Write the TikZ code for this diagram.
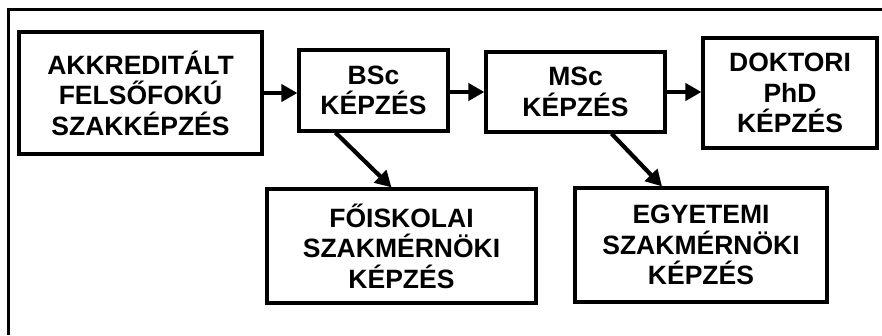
\documentclass[tikz,border=0pt]{standalone}
\usepackage{fontspec}
\setmainfont{Liberation Sans}
\usetikzlibrary{arrows.meta}

\tikzset{
    stage/.style={draw, line width=3.2pt, align=center, inner sep=0pt,
        font=\fontsize{26.5}{30.5}\selectfont\bfseries},
    flow/.style={line width=4.2pt, -{Triangle[length=16pt,width=17pt]}},
}

\begin{document}
\begin{tikzpicture}[x=1pt, y=-1pt]
        \useasboundingbox (0,0) rectangle (882,335);
        \draw [line width=2.8pt] (882,9.5) -- (8.5,9.5) -- (8.5,335);

        \node [stage, minimum width=243pt, minimum height=122pt] (akk) at (140.5,93)
            {AKKREDITÁLT\\FELSŐFOKÚ\\SZAKKÉPZÉS};
        \node [stage, minimum width=149pt, minimum height=81pt] (bsc) at (373.5,90.5)
            {BSc\\KÉPZÉS};
        \node [stage, minimum width=179pt, minimum height=80pt] (msc) at (575.5,92)
            {MSc\\KÉPZÉS};
        \node [stage, minimum width=174pt, minimum height=110pt] (phd) at (790,93)
            {DOKTORI\\PhD\\KÉPZÉS};
        \node [stage, minimum width=269pt, minimum height=114pt] (foi) at (401.5,246)
            {FŐISKOLAI\\SZAKMÉRNÖKI\\KÉPZÉS};
        \node [stage, minimum width=252pt, minimum height=114pt] (egy) at (701,245)
            {EGYETEMI\\SZAKMÉRNÖKI\\KÉPZÉS};

        \draw [flow] (akk.east) -- (akk.east -| bsc.west);
        \draw [flow] (msc.west -| bsc.east) -- (msc.west);
        \draw [flow] (msc.east) -- (msc.east -| phd.west);
        \draw [flow] ([xshift=-38pt]bsc.south) -- ([xshift=-10pt]foi.north);
        \draw [flow] ([xshift=36pt]msc.south) -- ([xshift=-39pt]egy.north);
    \end{tikzpicture}
\end{document}
